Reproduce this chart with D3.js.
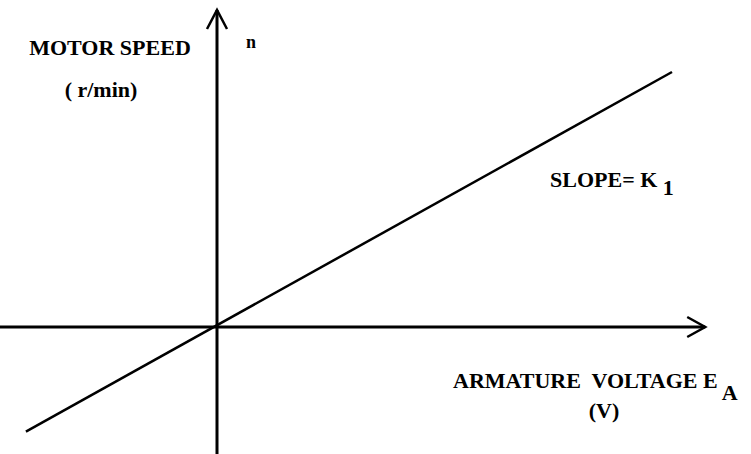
<!DOCTYPE html>
<html>
<head>
<meta charset="utf-8">
<script src="https://cdn.jsdelivr.net/npm/d3@7"></script>
<style>
  html, body { margin: 0; padding: 0; background: #fff; }
  svg { display: block; }
  svg text { font-family: "Liberation Serif", "Times New Roman", serif; font-weight: bold; fill: #000; white-space: pre; }
</style>
</head>
<body>
<div id="chart"></div>
<script>
// armature voltage vs motor speed (arbitrary units, line through origin)
const voltage = [-0.42, 1.0]
const speed = [-0.41, 1.0]
const xAxisExtent = [-0.48, 1.073]
const yAxisExtent = [-0.5, 1.243]

const width = 751
const height = 454

const x = d3.scaleLinear().domain([0, 1]).range([217, 672])
const y = d3.scaleLinear().domain([0, 1]).range([327, 72])

const svg = d3.select('#chart').append('svg')
  .attr('width', width)
  .attr('height', height)

// axes
svg.append('line')
  .attr('x1', x(xAxisExtent[0])).attr('x2', x(xAxisExtent[1]))
  .attr('y1', y(0)).attr('y2', y(0))
  .attr('stroke', '#000').attr('stroke-width', 3)

svg.append('line')
  .attr('x1', x(0)).attr('x2', x(0))
  .attr('y1', y(yAxisExtent[0])).attr('y2', y(yAxisExtent[1]))
  .attr('stroke', '#000').attr('stroke-width', 3)

// open arrow heads
const xt = [x(xAxisExtent[1]), y(0)]
svg.append('path')
  .attr('d', `M${xt[0] - 18},${xt[1] - 10}L${xt[0]},${xt[1]}L${xt[0] - 18},${xt[1] + 10}`)
  .attr('fill', 'none').attr('stroke', '#000').attr('stroke-width', 2.5)

const yt = [x(0), y(yAxisExtent[1])]
svg.append('path')
  .attr('d', `M${yt[0] - 10},${yt[1] + 19}L${yt[0]},${yt[1]}L${yt[0] + 10},${yt[1] + 19}`)
  .attr('fill', 'none').attr('stroke', '#000').attr('stroke-width', 2.5)

// characteristic line
const line = d3.line()
  .x(d => x(d[0]))
  .y(d => y(d[1]))

svg.append('path')
  .datum(d3.zip(voltage, speed))
  .attr('d', line)
  .attr('fill', 'none')
  .attr('stroke', '#000')
  .attr('stroke-width', 2.5)

// labels
function label (px, py, size, anchor) {
  return svg.append('text')
    .attr('x', px).attr('y', py)
    .attr('text-anchor', anchor || 'start')
    .style('font-size', size + 'px')
}

label(110, 55, 22, 'middle').text('MOTOR SPEED')
label(101, 97, 22, 'middle').text('( r/min)')
label(246, 48, 18).text('n')

const slope = label(550, 187, 22)
slope.append('tspan').text('SLOPE= K ')
slope.append('tspan').attr('dy', 8).text('1')

const ea = label(453, 388, 22)
ea.append('tspan').text('ARMATURE  VOLTAGE E')
ea.append('tspan').attr('dy', 12).attr('dx', 4).text('A')

label(604, 418, 22, 'middle').text('(V)')
</script>
</body>
</html>
